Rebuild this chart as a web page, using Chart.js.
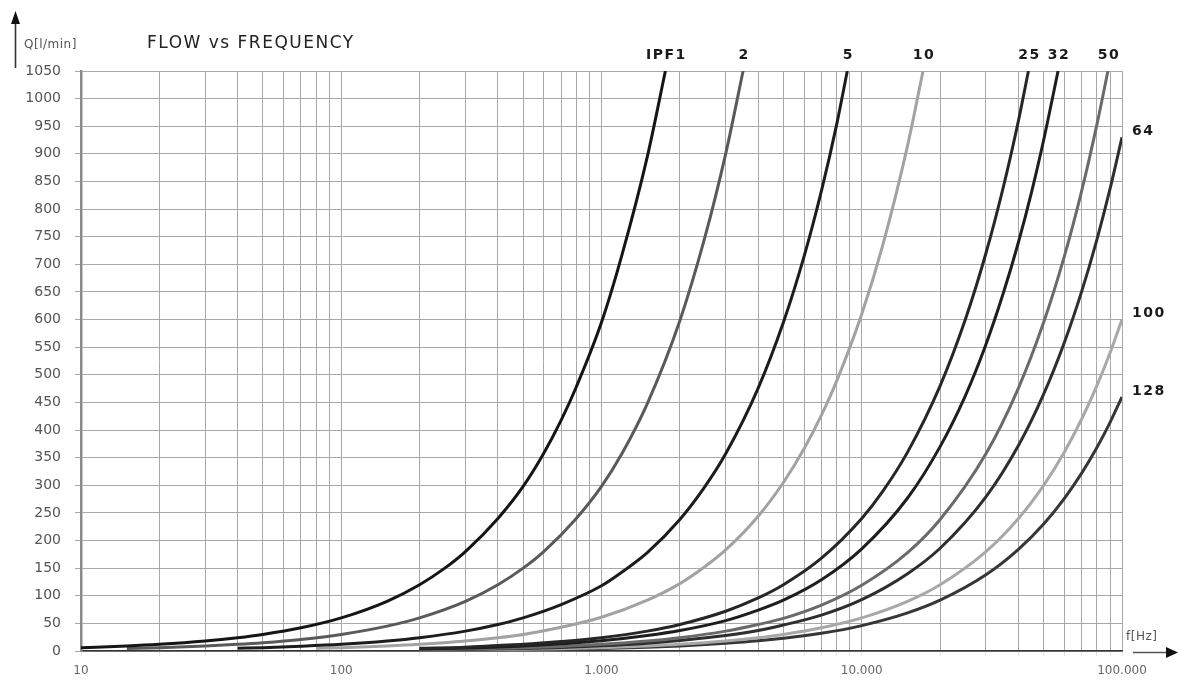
<!DOCTYPE html>
<html>
<head>
<meta charset="utf-8">
<script src="https://cdn.jsdelivr.net/npm/chart.js@4.4.1/dist/chart.umd.min.js"></script>
<style>
  html, body { margin: 0; padding: 0; background: #ffffff; }
  #c { display: block; }
</style>
</head>
<body>
<canvas id="c" width="1179" height="691"></canvas>
<script>
// ---------- DATA ----------
const seriesNames = ['IPF1', '2', '5', '10', '25', '32', '50', '64', '100', '128'];
const seriesColors = ['#151515', '#5a5a5a', '#1c1c1c', '#a2a2a2', '#262626', '#1e1e1e', '#6a6a6a', '#2e2e2e', '#a8a8a8', '#363636'];
const labelSide = ['top', 'top', 'top', 'top', 'top', 'top', 'top', 'right', 'right', 'right'];

const fIPF1 = [10, 15, 20, 30, 40, 50, 70, 100, 150, 200, 250, 300, 400, 500, 600, 700, 800, 1000, 1200, 1500, 1760];
const qIPF1 = [6, 9, 12, 18, 24, 30, 42, 60, 90, 120, 150, 180, 240, 298, 358, 418, 478, 595, 718, 895, 1050];

const f2 = [15, 20, 30, 40, 50, 70, 100, 150, 200, 300, 400, 500, 600, 800, 1000, 1200, 1500, 2000, 2500, 3000, 3500];
const q2 = [4.5, 6, 9, 12, 15, 21, 30, 45, 60, 90, 120, 150, 180, 240, 298, 358, 448, 598, 750, 900, 1050];

const f5 = [40, 50, 70, 100, 150, 200, 300, 400, 500, 700, 1000, 1200, 1500, 2000, 2500, 3000, 4000, 5000, 6000, 7000, 8000, 8800];
const q5 = [5, 6, 8.5, 12, 18, 24, 36, 48, 60, 84, 118, 143, 178, 238, 298, 357, 476, 595, 714, 833, 952, 1050];

const f10 = [80, 100, 150, 200, 300, 400, 500, 700, 1000, 1500, 2000, 2500, 3000, 4000, 5000, 6000, 7000, 8000, 10000, 12000, 15000, 17200];
const q10 = [5, 6, 9, 12, 18, 24, 30, 43, 61, 92, 122, 153, 183, 244, 305, 366, 427, 488, 610, 732, 915, 1050];

const f25 = [200, 300, 400, 500, 700, 1000, 1500, 2000, 3000, 4000, 5000, 7000, 10000, 12000, 15000, 20000, 25000, 30000, 35000, 40000, 43700];
const q25 = [5, 7, 10, 12, 17, 24, 36, 48, 72, 96, 120, 168, 240, 288, 360, 480, 600, 720, 840, 960, 1050];

const f32 = [200, 300, 500, 700, 1000, 1500, 2000, 3000, 4000, 5000, 7000, 10000, 15000, 20000, 25000, 30000, 35000, 40000, 45000, 50000, 56800];
const q32 = [3.7, 5.5, 9, 13, 18.5, 28, 37, 55, 74, 92, 129, 185, 277, 370, 462, 555, 648, 740, 832, 925, 1050];

const f50 = [200, 300, 500, 700, 1000, 1500, 2000, 3000, 4000, 5000, 7000, 10000, 15000, 20000, 30000, 40000, 50000, 60000, 70000, 80000, 88300];
const q50 = [2.4, 3.6, 6, 8.3, 12, 18, 24, 36, 48, 59, 83, 119, 178, 238, 357, 476, 595, 714, 833, 952, 1050];

const f64 = [200, 300, 500, 700, 1000, 1500, 2000, 3000, 4000, 5000, 7000, 10000, 15000, 20000, 30000, 40000, 50000, 60000, 70000, 80000, 90000, 100000];
const q64 = [1.9, 2.8, 4.7, 6.5, 9.3, 14, 19, 28, 37, 47, 65, 93, 140, 186, 279, 372, 465, 558, 651, 744, 837, 930];

const f100 = [200, 300, 500, 700, 1000, 1500, 2000, 3000, 4000, 5000, 7000, 10000, 15000, 20000, 30000, 40000, 50000, 60000, 70000, 80000, 90000, 100000];
const q100 = [1.2, 1.8, 3, 4.2, 6, 9, 12, 18, 24, 30, 42, 60, 90, 120, 180, 240, 300, 360, 420, 480, 540, 600];

const f128 = [200, 300, 500, 700, 1000, 1500, 2000, 3000, 4000, 5000, 7000, 10000, 15000, 20000, 30000, 40000, 50000, 60000, 70000, 80000, 90000, 100000];
const q128 = [0.9, 1.4, 2.3, 3.2, 4.6, 6.9, 9.2, 14, 18.4, 23, 32, 46, 69, 92, 138, 184, 230, 276, 322, 368, 414, 460];

const seriesFreqs = [fIPF1, f2, f5, f10, f25, f32, f50, f64, f100, f128];
const seriesFlows = [qIPF1, q2, q5, q10, q25, q32, q50, q64, q100, q128];

// axis ticks
const xMajorTicks = [10, 100, 1000, 10000, 100000];
const xMajorLabels = ['10', '100', '1.000', '10.000', '100.000'];
const xMin = 10, xMax = 100000;
const yMin = 0, yMax = 1050, yStep = 50;

const chartTitle = 'FLOW vs FREQUENCY';
const yUnit = 'Q[l/min]';
const xUnit = 'f[Hz]';

// ---------- BUILD ----------
const xGridValues = [];
for (let d = 0; d < xMajorTicks.length - 1; d++) {
  for (let m = 1; m <= 9; m++) xGridValues.push(xMajorTicks[d] * m);
}
xGridValues.push(xMajorTicks[xMajorTicks.length - 1]);

const datasets = seriesNames.map((name, i) => ({
  label: name,
  data: seriesFreqs[i].map((f, j) => ({ x: f, y: seriesFlows[i][j] })),
  borderColor: seriesColors[i],
  backgroundColor: seriesColors[i],
  borderWidth: 3,
  pointRadius: 0,
  fill: false,
  cubicInterpolationMode: 'monotone'
}));

const annotations = {
  id: 'annotations',
  afterDraw(chart) {
    const ctx = chart.ctx;
    const xs = chart.scales.x, ys = chart.scales.y;
    const area = chart.chartArea;
    ctx.save();

    // title
    ctx.fillStyle = '#222';
    ctx.font = '17px "DejaVu Sans"';
    ctx.letterSpacing = '1.5px';
    ctx.textAlign = 'left';
    ctx.textBaseline = 'middle';
    ctx.fillText(chartTitle, 147, 44);

    // y unit
    ctx.fillStyle = '#555';
    ctx.font = '12px "DejaVu Sans"';
    ctx.letterSpacing = '0.5px';
    ctx.fillText(yUnit, 24, 45);

    // y arrow
    ctx.strokeStyle = '#333';
    ctx.lineWidth = 1.6;
    ctx.beginPath();
    ctx.moveTo(15.5, 68);
    ctx.lineTo(15.5, 20);
    ctx.stroke();
    ctx.fillStyle = '#111';
    ctx.beginPath();
    ctx.moveTo(15.5, 11);
    ctx.lineTo(11, 24);
    ctx.lineTo(20, 24);
    ctx.closePath();
    ctx.fill();

    // x unit
    ctx.fillStyle = '#555';
    ctx.font = '12px "DejaVu Sans"';
    ctx.letterSpacing = '0.5px';
    ctx.fillText(xUnit, 1126, 637);

    // x arrow
    ctx.strokeStyle = '#555';
    ctx.lineWidth = 1.6;
    ctx.beginPath();
    ctx.moveTo(1133, 652.5);
    ctx.lineTo(1168, 652.5);
    ctx.stroke();
    ctx.fillStyle = '#111';
    ctx.beginPath();
    ctx.moveTo(1178, 652.5);
    ctx.lineTo(1166, 647);
    ctx.lineTo(1166, 658);
    ctx.closePath();
    ctx.fill();

    // curve labels
    ctx.fillStyle = '#1a1a1a';
    ctx.font = 'bold 14px "DejaVu Sans"';
    ctx.letterSpacing = '1.5px';
    seriesNames.forEach((name, i) => {
      const fs = seriesFreqs[i], qs = seriesFlows[i];
      const lastF = fs[fs.length - 1], lastQ = qs[qs.length - 1];
      if (labelSide[i] === 'top') {
        ctx.textAlign = 'center';
        ctx.textBaseline = 'middle';
        ctx.fillText(name, xs.getPixelForValue(lastF) + 1, area.top - 16);
      } else {
        ctx.textAlign = 'left';
        ctx.textBaseline = 'middle';
        ctx.fillText(name, area.right + 10, ys.getPixelForValue(lastQ) - 6);
      }
    });
    ctx.restore();
  }
};

new Chart(document.getElementById('c'), {
  type: 'line',
  data: { datasets },
  options: {
    responsive: false,
    animation: false,
    layout: { padding: { top: 71, right: 57, bottom: 0, left: 0 } },
    plugins: { legend: { display: false }, tooltip: { enabled: false }, title: { display: false } },
    scales: {
      x: {
        type: 'logarithmic',
        min: xMin,
        max: xMax,
        afterBuildTicks: (scale) => { scale.ticks = xGridValues.map(v => ({ value: v })); },
        afterFit: (scale) => { scale.height = 40; },
        grid: { color: '#a8a8a8', lineWidth: 1, tickLength: 5, tickColor: '#e2e2e2' },
        border: { color: '#333', width: 1.5 },
        ticks: {
          autoSkip: false,
          maxRotation: 0,
          padding: 8,
          color: '#666',
          font: { family: 'DejaVu Sans', size: 12 },
          callback: (value) => {
            const i = xMajorTicks.indexOf(value);
            return i >= 0 ? xMajorLabels[i] : '';
          }
        }
      },
      y: {
        type: 'linear',
        min: yMin,
        max: yMax,
        afterFit: (scale) => { scale.width = 81; },
        grid: { color: '#a8a8a8', lineWidth: 1, tickLength: 6, tickColor: '#a8a8a8' },
        border: { color: '#8a8a8a', width: 2.5 },
        ticks: {
          stepSize: yStep,
          padding: 14,
          color: '#555',
          font: { family: 'DejaVu Sans', size: 14 },
          callback: (value) => String(value)
        }
      }
    }
  },
  plugins: [annotations]
});
</script>
</body>
</html>
